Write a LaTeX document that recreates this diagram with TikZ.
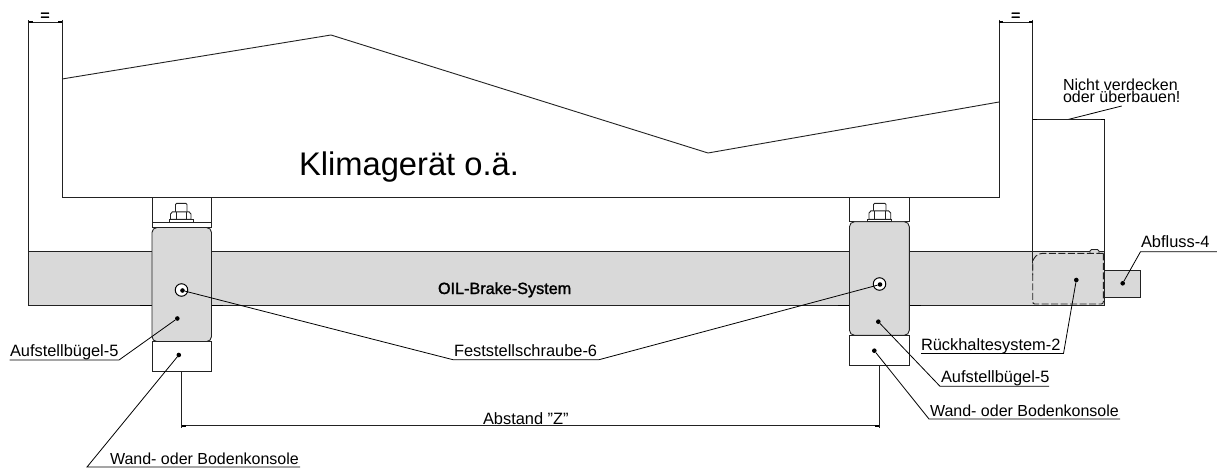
\documentclass[tikz,border=0pt]{standalone}
\usepackage{fontspec}
\setmainfont{Liberation Sans}
\newfontfamily\fakebf[FakeBold=1.5]{Liberation Sans}
\definecolor{barfill}{HTML}{D9D9D9}
\definecolor{linecol}{HTML}{222222}
\tikzset{
  ln/.style={draw=linecol,line width=0.9pt},
  lead/.style={draw=black,line width=0.8pt},
  dimln/.style={draw=linecol,line width=0.9pt},
  dimend/.style={draw=black,line width=1.6pt},
  lbl/.style={anchor=base west,inner sep=0pt,outer sep=0pt,font=\fontsize{16.4}{16.4}\selectfont,text=black},
  lblsm/.style={lbl,font=\fontsize{16}{16}\selectfont},
  eqlbl/.style={anchor=base,inner sep=0pt,outer sep=0pt,font=\fakebf\fontsize{16}{16}\selectfont,text=black},
  pdot/.style={circle,fill=black,inner sep=0pt,minimum size=4.6pt},
  hole/.style={circle,draw=black,fill=white,line width=1pt,inner sep=0pt,minimum size=12.5pt},
  bracketbox/.style={ln,fill=barfill,rounded corners=5pt},
  plate/.style={ln,fill=white},
}
\begin{document}
\begin{tikzpicture}[x=1pt,y=-1pt]
\useasboundingbox (0,0) rectangle (1217,468);
\fill[white] (0,0) rectangle (1217,468);
% bar
\draw[ln,fill=barfill] (28.5,251) rectangle (1104.5,305.5);
\draw[ln,fill=barfill] (1104.5,270.7) rectangle (1140.5,297.3);
\draw[draw=black,line width=1.2pt] (140,305.5) -- (152,305.5) (211.5,305.5) -- (223,305.5)
  (838,305.5) -- (849.5,305.5) (909.3,305.5) -- (921,305.5);
% frame verticals
\draw[ln] (28.5,251) -- (28.5,20);
\draw[ln] (62,20) -- (62,197.5);
\draw[ln] (999,20) -- (999,197.5);
\draw[ln] (1032.7,20) -- (1032.7,263);
\draw[ln] (1104.5,119.5) -- (1104.5,251);
% unit
\draw[ln] (62,79) -- (331,35) -- (708,153) -- (999,102);
\draw[ln] (62,197.5) -- (999,197.5);
% small cap on the bar
\draw[ln,rounded corners=1.5pt,fill=barfill] (1090,253) -- (1090,249.5) -- (1099,249.5) -- (1099,253);
% dashed retention outline
\draw[draw=linecol,line width=0.9pt,dash pattern=on 7pt off 2.5pt,rounded corners=2pt]
  (1103.3,253.3) -- (1103.3,304) -- (1032.7,304) -- (1032.7,263);
\draw[draw=linecol,line width=0.9pt,dash pattern=on 7pt off 2.5pt,rounded corners=10pt]
  (1103.3,253.3) -- (1032.7,253.3) -- (1032.7,275);
% left support
\draw[plate] (152,197.5) rectangle (211.5,227.5);
\draw[ln] (152,222) -- (211.5,222);
\draw[bracketbox] (152,227.5) rectangle (211.5,341.6);
\draw[plate] (152,341.6) rectangle (211.5,371.5);
\draw[ln,rounded corners=1.2pt] (175.5,212) -- (175.5,203.3) -- (187,203.3) -- (187,212);
\draw[ln,fill=white] (170.5,219.3) -- (170.5,214) -- (172.5,211.8) -- (189,211.8) -- (191,214) -- (191,219.3) -- cycle;
\draw[ln] (176,212) -- (176,219.3) (186,212) -- (186,219.3);
\draw[ln,fill=white] (169,219.3) rectangle (193.3,222);
% right support
\draw[plate] (849.5,197.5) rectangle (909.3,221.7);
\draw[bracketbox] (849.5,221.7) rectangle (909.3,335.3);
\draw[plate] (849.5,335.3) rectangle (909.3,365.5);
\draw[ln,rounded corners=1.2pt] (873.5,211) -- (873.5,203.3) -- (886,203.3) -- (886,211);
\draw[ln,fill=white] (869,219.3) -- (869,213) -- (871,210.8) -- (888.5,210.8) -- (890.7,213) -- (890.7,219.3) -- cycle;
\draw[ln] (874,211) -- (874,219.3) (885.5,211) -- (885.5,219.3);
\draw[ln,fill=white] (867.7,219.3) rectangle (891.7,221.7);
% holes
\node[hole] (holeL) at (181.5,290) {};
\node[hole] (holeR) at (879.5,284) {};
% dots
\node[pdot] (dHoleL) at (182.5,290.5) {};
\node[pdot] (dHoleR) at (880,284.5) {};
\node[pdot] (dBrL) at (177.3,318.5) {};
\node[pdot] (dKoL) at (178.8,355) {};
\node[pdot] (dBrR) at (878.3,321.7) {};
\node[pdot] (dKoR) at (874.3,350.7) {};
\node[pdot] (dRue) at (1076.3,280) {};
\node[pdot] (dAbf) at (1122.7,283.3) {};
% texts
\node[lbl,font=\fontsize{32.7}{32.7}\selectfont] (tKlima) at (299,175) {Klimagerät o.ä.};
\node[lbl,font=\fakebf\fontsize{16.2}{16.2}\selectfont] (tOil) at (438,294) {OIL-Brake-System};
\node[lbl] (tFest) at (454,356) {Feststellschraube-6};
\node[lbl] (tAbst) at (483,424) {Abstand \symbol{34}Z\symbol{34}};
\node[lbl] (tBrL) at (10,356.5) {Aufstellbügel-5};
\node[lblsm] (tKoL) at (110,464) {Wand- oder Bodenkonsole};
\node[lbl] (tBrR) at (941,382.7) {Aufstellbügel-5};
\node[lblsm] (tKoR) at (930,416) {Wand- oder Bodenkonsole};
\node[lbl] (tRue) at (921,350) {Rückhaltesystem-2};
\node[lbl] (tAbf) at (1141,247.7) {Abfluss-4};
\node[lblsm] (tN1) at (1063,90.7) {Nicht verdecken};
\node[lblsm] (tN2) at (1063,102.5) {oder überbauen!};
\node[eqlbl] (tEqL) at (45,20.5) {=};
\node[eqlbl] (tEqR) at (1015.7,20.5) {=};
% leaders
\coordinate (eF1) at (453,359.7); \coordinate (eF2) at (599,359.7);
\draw[lead] (dHoleL) -- (eF1) -- (eF2) -- (dHoleR);
\coordinate (eB1) at (119,360); \coordinate (eB0) at (9.5,360);
\draw[lead] (dBrL) -- (eB1) -- (eB0);
\coordinate (eK1) at (87,467); \coordinate (eK0) at (300,467);
\draw[lead] (dKoL) -- (eK1) -- (eK0);
\coordinate (eBR1) at (940,386.3); \coordinate (eBR0) at (1049,386.3);
\draw[lead] (dBrR) -- (eBR1) -- (eBR0);
\coordinate (eKR1) at (929,419); \coordinate (eKR0) at (1120,419);
\draw[lead] (dKoR) -- (eKR1) -- (eKR0);
\coordinate (eR1) at (1063.5,353.5); \coordinate (eR0) at (921,353.5);
\draw[lead] (dRue) -- (eR1) -- (eR0);
\coordinate (eA1) at (1140.5,251.7); \coordinate (eA0) at (1217,251.7);
\draw[lead] (dAbf) -- (eA1) -- (eA0);
\coordinate (nA) at (1068,119.5); \coordinate (nB) at (1121.7,106);
\draw[lead] (nA) -- (nB);
% dimensions
\coordinate (zL) at (181.7,425.7); \coordinate (zR) at (879.3,425.7);
\draw[dimln] (181.7,371.5) -- (181.7,427.5) (879.3,365.5) -- (879.3,427.5);
\draw[dimln] (zL) -- (zR);
\draw[dimend] (zL) -- ++(4,0) (zR) -- ++(-4,0);
\foreach \a/\b/\y in {28.5/62/22,999/1032.7/22,1032.7/1104.5/119.5}{
  \draw[dimln] (\a,\y) -- (\b,\y);
  \draw[dimend] (\a,\y) -- ++(4,0) (\b,\y) -- ++(-4,0);
}
\end{tikzpicture}
\end{document}
